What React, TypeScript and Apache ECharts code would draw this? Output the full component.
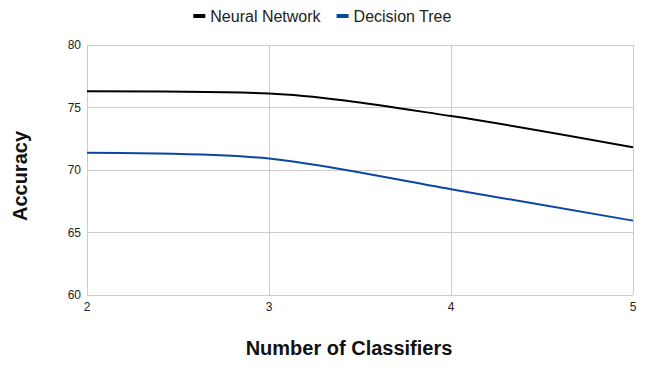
import React, { useEffect, useRef } from "react";
import * as echarts from "echarts";

const classifiers = [2, 3, 4, 5];
const neuralNetwork = [76.3, 76.12, 74.32, 71.82];
const decisionTree = [71.38, 70.92, 68.46, 65.95];
const seriesNames = ["Neural Network", "Decision Tree"];

export default function App() {
  const ref = useRef<HTMLDivElement>(null);
  useEffect(() => {
    if (!ref.current) return;
    const chart = echarts.init(ref.current, undefined, { renderer: "svg" });
    const font = "'Liberation Sans', Arial, sans-serif";
    chart.setOption({
      animation: false,
      textStyle: { fontFamily: font },
      legend: {
        top: 3,
        left: "center",
        itemWidth: 12,
        itemHeight: 4,
        itemGap: 16,
        icon: "rect",
        textStyle: { fontSize: 16, color: "#222", fontFamily: font },
        data: seriesNames,
      },
      grid: { left: 87, right: 12, top: 45, bottom: 73 },
      xAxis: {
        type: "value",
        min: 2,
        max: 5,
        interval: 1,
        name: "Number of Classifiers",
        nameLocation: "middle",
        nameGap: 43,
        nameTextStyle: {
          fontSize: 20,
          fontWeight: "bold",
          color: "#111",
          fontFamily: font,
          padding: [0, 22, 0, 0],
        },
        axisLine: { show: false },
        axisTick: { show: false },
        axisLabel: { fontSize: 12, color: "#222", margin: 6, fontFamily: font },
        splitLine: { show: true, lineStyle: { color: "#cccccc", width: 1 } },
      },
      yAxis: {
        type: "value",
        min: 60,
        max: 80,
        interval: 5,
        name: "Accuracy",
        nameLocation: "middle",
        nameGap: 57,
        nameTextStyle: {
          fontSize: 20,
          fontWeight: "bold",
          color: "#111",
          fontFamily: font,
          padding: [0, 12, 0, 0],
        },
        axisLine: { show: false },
        axisTick: { show: false },
        axisLabel: { fontSize: 12, color: "#222", margin: 6, fontFamily: font },
        splitLine: { show: true, lineStyle: { color: "#cccccc", width: 1 } },
      },
      series: [
        {
          name: seriesNames[0],
          type: "line",
          smooth: 0.3,
          symbol: "none",
          data: classifiers.map((c, i) => [c, neuralNetwork[i]]),
          lineStyle: { color: "#000000", width: 2 },
          itemStyle: { color: "#000000" },
        },
        {
          name: seriesNames[1],
          type: "line",
          smooth: 0.3,
          symbol: "none",
          data: classifiers.map((c, i) => [c, decisionTree[i]]),
          lineStyle: { color: "#0b47a1", width: 2 },
          itemStyle: { color: "#0b47a1" },
        },
      ],
    });
    return () => chart.dispose();
  }, []);
  return (
    <div
      ref={ref}
      style={{ position: "fixed", left: 0, top: 0, width: 645, height: 368, background: "#fff" }}
    />
  );
}
